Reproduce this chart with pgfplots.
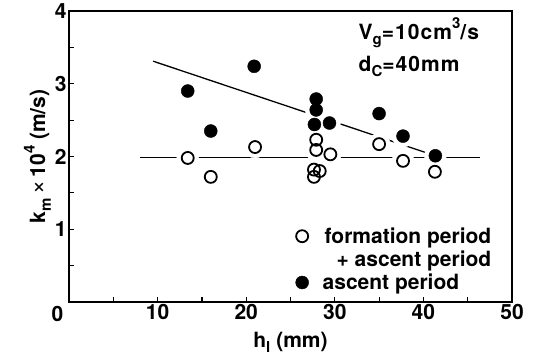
\documentclass[border=0pt]{standalone}
\usepackage{fontspec}
\setmainfont{TeX Gyre Heros}
\newfontfamily\spaced[LetterSpace=5]{TeX Gyre Heros}
\usepackage{calc}
\usepackage{pgfplots}
\pgfplotsset{compat=1.18}
\newcommand\sub[1]{\raisebox{-0.28em}{\fontsize{15}{15}\selectfont #1}}
\newcommand\sups[1]{\raisebox{0.5em}{\fontsize{15}{15}\selectfont #1}}
\pgfplotstableread{
h k
13.4 2.90
16.0 2.35
20.9 3.24
27.9 2.79
27.9 2.64
27.7 2.44
29.4 2.46
35.0 2.59
37.7 2.28
41.35 2.01
}\filled
\pgfplotstableread{
h k
13.4 1.98
16.0 1.72
21.0 2.13
27.9 2.23
27.9 2.09
29.5 2.03
27.65 1.82
28.3 1.80
27.65 1.72
35.0 2.17
37.7 1.94
41.3 1.79
}\open
\begin{document}
\begin{tikzpicture}
\begin{axis}[
  scale only axis, width=443pt, height=291pt,
  xmin=0, xmax=50, ymin=0, ymax=4,
  xtick={10,20,30,40,50}, ytick={1,2,3,4},
  minor xtick={5,15,25,35,45}, minor ytick={0.5,1.5,2.5,3.5},
  tick pos=left, tick align=inside,
  major tick length=5pt, minor tick length=5pt,
  every tick/.style={black, line width=1.2pt},
  axis line style={line width=1.5pt},
  /pgf/number format/assume math mode=true,
  tick label style={font=\bfseries\fontsize{21}{24}\selectfont},
  xticklabel style={yshift=1pt},
  yticklabel style={xshift=1pt},
  label style={font=\bfseries\fontsize{21}{24}\selectfont},
  xlabel={h\sub{l} (mm)},
  xlabel style={yshift=-5pt},
  ylabel={k\sub{m}\,{\mdseries\fontsize{24}{24}\selectfont ×}\,10\sups{4} (m/s)},
  ylabel style={yshift=-3pt},
  legend style={draw=none, fill=none, at={(rel axis cs:0.965,0.27)}, anchor=north east,
    font=\bfseries\fontsize{21}{22}\selectfont, row sep=2pt},
  legend cell align=left,
  clip=false,
]
\addplot[black, line width=1.3pt, forget plot] coordinates {(9.5,3.31) (41.35,2.01)};
\addplot[black, line width=1.3pt, forget plot] coordinates {(8.0,1.99) (46.4,1.99)};
\addplot[only marks, mark=*, mark size=11pt, white, forget plot] table[x=h,y=k] {\filled};
\addplot[only marks, mark=*, mark size=11pt, white, forget plot] table[x=h,y=k] {\open};
\addplot[only marks, mark=o, mark size=6pt, black, line width=1.8pt,
  mark options={fill=white}] table[x=h,y=k] {\open};
\addlegendentry{\hspace{14pt}formation period}
\addlegendimage{empty legend}
\addlegendentry{\hspace{14pt}\makebox[\widthof{formation period}][r]{+ ascent period}}
\addplot[only marks, mark=*, mark size=6.5pt, black] table[x=h,y=k] {\filled};
\addlegendentry{\hspace{12pt}ascent period}
\node[font=\bfseries\fontsize{21}{24}\selectfont\spaced, anchor=base west] at (axis cs:32.3,3.615) {V\sub{g}=10cm\sups{3}/s};
\node[font=\bfseries\fontsize{21}{24}\selectfont\spaced, anchor=base west] at (axis cs:32.3,3.175) {d\sub{C}=40mm};
\node[font=\bfseries\fontsize{21}{24}\selectfont] at (axis cs:0,0) [xshift=-11.5pt, yshift=-12pt] {0};
\end{axis}
\pgfresetboundingbox
\path ([shift={(-69pt,-54pt)}]current axis.south west) rectangle ([shift={(22pt,11pt)}]current axis.north east);
\end{tikzpicture}
\end{document}
